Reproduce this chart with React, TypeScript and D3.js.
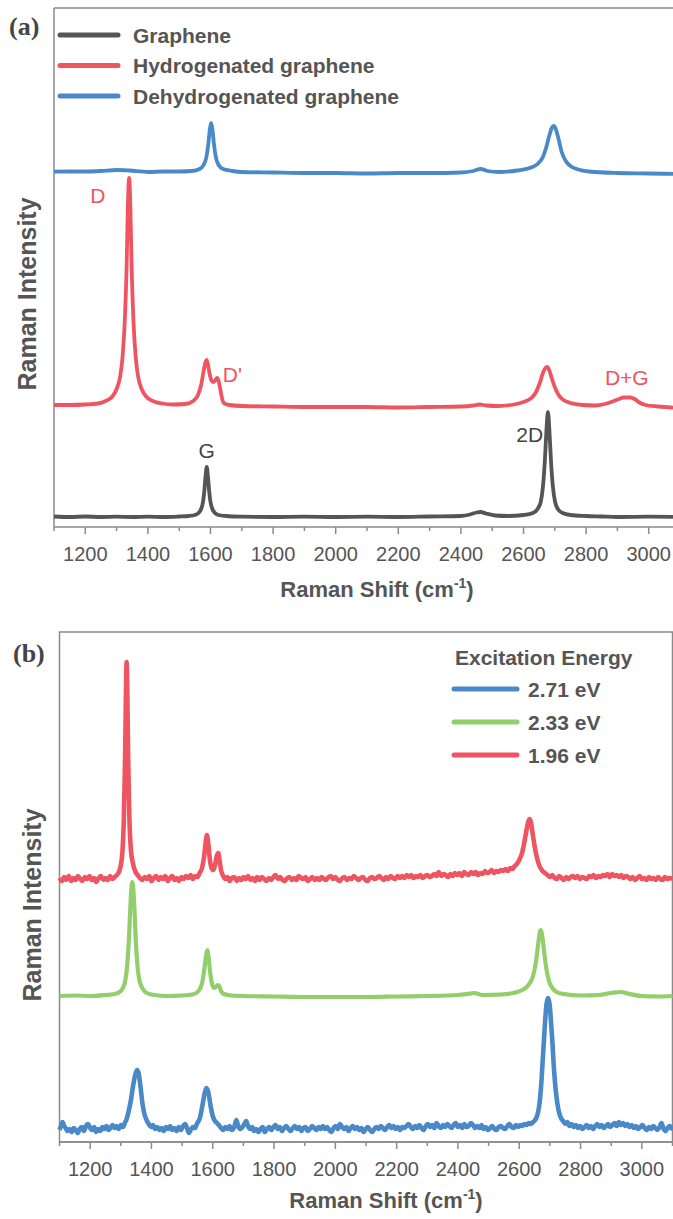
import React from "react";
import * as d3 from "d3";

// ---- panel (a) spectra: [Raman shift (cm-1), intensity above own baseline]
const graphene: [number, number][] = [
  [1100, 0.5], [1150, 0], [1200, 0.5], [1250, 0], [1300, 0.3], [1350, 0], [1400, 0.4], [1450, 0],
  [1500, 0.5], [1530, 1], [1550, 2], [1562, 4], [1570, 8], [1576, 15], [1580, 25], [1584, 40],
  [1588, 50], [1592, 40], [1596, 25], [1600, 15], [1606, 8], [1614, 4], [1625, 2], [1650, 1],
  [1700, 0.3], [1800, 0], [1900, 0.4], [2000, 0], [2100, 0.3], [2200, 0], [2300, 0.5], [2400, 1],
  [2430, 2.5], [2450, 4.5], [2463, 5], [2480, 3.5], [2510, 1.5], [2550, 1], [2600, 2], [2630, 4],
  [2645, 8], [2655, 15], [2662, 30], [2668, 55], [2673, 85], [2678, 105], [2683, 85], [2688, 55],
  [2694, 30], [2701, 15], [2712, 7], [2725, 4], [2750, 2], [2800, 1], [2850, 0.5], [2900, 0],
  [3000, 0.3], [3100, 0],
];

const hydrogenated: [number, number][] = [
  [1100, 2], [1150, 2], [1200, 2.5], [1240, 3.5], [1265, 6], [1285, 10], [1300, 18], [1311, 30],
  [1319, 50], [1326, 85], [1332, 140], [1336, 200], [1340, 229], [1344, 200], [1348, 140], [1354, 85],
  [1361, 50], [1369, 30], [1380, 18], [1396, 10], [1416, 6], [1445, 3.5], [1480, 2.5], [1520, 3],
  [1545, 6], [1560, 12], [1570, 22], [1578, 36], [1584, 45], [1588, 47], [1592, 42], [1598, 32],
  [1604, 26], [1610, 25], [1616, 27], [1621, 29], [1625, 27], [1630, 20], [1636, 10], [1642, 4],
  [1660, 2], [1700, 1], [1800, 0.5], [1900, 0], [2000, 0], [2100, 0], [2200, -0.5], [2300, 0],
  [2400, 0.5], [2440, 1.5], [2460, 2.5], [2480, 1.5], [2520, 1], [2570, 2.5], [2600, 5], [2625, 9],
  [2640, 15], [2652, 24], [2662, 34], [2670, 39], [2676, 40], [2682, 37], [2690, 29], [2700, 20],
  [2712, 12], [2728, 7], [2750, 4], [2790, 2], [2830, 1.5], [2860, 3], [2885, 5.5], [2905, 8],
  [2920, 9.5], [2940, 9.5], [2955, 8], [2970, 4.5], [2990, 2], [3030, 0.5], [3100, -1],
];

const dehydrogenated: [number, number][] = [
  [1100, 0.3], [1150, 0.5], [1200, 0.5], [1250, 1], [1300, 2], [1340, 1.5], [1400, 0], [1450, 0.5],
  [1500, 0.5], [1540, 1], [1565, 3], [1578, 7], [1587, 15], [1593, 28], [1598, 43], [1602, 49],
  [1606, 43], [1611, 28], [1617, 15], [1626, 7], [1640, 3], [1670, 1], [1700, 0], [1800, -0.5],
  [1900, -1], [2000, -1], [2100, -1.5], [2200, -1], [2300, -1], [2400, -0.5], [2440, 1], [2463, 3],
  [2485, 1], [2520, 0], [2580, 1.5], [2620, 4], [2645, 8], [2662, 15], [2673, 25], [2683, 37],
  [2692, 45], [2697, 46], [2703, 43], [2712, 33], [2722, 20], [2735, 11], [2750, 6], [2775, 2.5],
  [2810, 0.5], [2900, -1], [3000, -1.5], [3100, -2],
];

// ---- panel (b) spectra
const ev196: [number, number][] = [
  [1100, 0], [1108, -3], [1115, 1], [1122, -2], [1130, 2], [1138, -3], [1145, 0], [1153, -2],
  [1160, 2], [1168, -1], [1175, -3], [1183, 1], [1190, -1], [1198, 2], [1205, -2], [1213, 0],
  [1220, -4], [1228, 0], [1235, 2], [1243, -2], [1250, 0], [1258, -2], [1265, 2], [1273, -1],
  [1280, 1], [1290, 4], [1298, 10], [1305, 25], [1310, 60], [1314, 120], [1317, 190], [1319, 216],
  [1321, 190], [1324, 120], [1328, 60], [1333, 28], [1340, 14], [1348, 6], [1355, 3], [1362, 0],
  [1370, -2], [1378, 1], [1385, -1], [1393, 2], [1400, -3], [1408, 0], [1415, 2], [1423, -2],
  [1430, 1], [1438, -1], [1445, 2], [1453, -3], [1460, 0], [1468, 2], [1475, -2], [1483, 0],
  [1490, -3], [1498, 1], [1505, -1], [1513, 2], [1520, 0], [1528, 3], [1535, -1], [1543, 2],
  [1550, 1], [1557, 5], [1565, 10], [1572, 22], [1577, 36], [1581, 43], [1585, 36], [1590, 20],
  [1596, 10], [1602, 8], [1608, 14], [1613, 22], [1618, 25], [1622, 18], [1627, 8], [1634, 2],
  [1641, -1], [1648, 1], [1655, -3], [1662, 0], [1670, 1], [1678, -3], [1685, 0], [1693, -2],
  [1700, 1], [1708, -1], [1715, 2], [1723, -2], [1730, 0], [1738, -3], [1745, 1], [1753, -2],
  [1760, 1], [1768, -1], [1775, -3], [1783, 0], [1790, -2], [1798, 1], [1805, 3], [1813, -1],
  [1820, 1], [1828, -2], [1835, -3], [1843, 0], [1850, 1], [1858, -2], [1865, 0], [1873, -2],
  [1880, 2], [1888, 0], [1895, -1], [1903, 1], [1910, -3], [1918, -1], [1925, 1], [1933, -2],
  [1940, 0], [1948, -2], [1955, 1], [1963, -1], [1970, -2], [1978, 1], [1985, 2], [1993, -1],
  [2000, 1], [2008, -2], [2015, -3], [2023, 0], [2030, 1], [2038, -2], [2045, 0], [2053, -1],
  [2060, 2], [2068, 0], [2075, -2], [2083, 0], [2090, 1], [2098, -2], [2105, -3], [2113, 0],
  [2120, 1], [2128, -1], [2135, 0], [2143, 2], [2150, 0], [2158, -2], [2165, 1], [2173, -1],
  [2180, 2], [2188, 0], [2195, -1], [2203, 2], [2210, 0], [2218, 2], [2225, 0], [2233, 3],
  [2240, 1], [2248, 3], [2255, 0], [2263, 2], [2270, 1], [2278, 3], [2285, 0], [2293, 2],
  [2300, 3], [2308, 1], [2315, 2], [2323, 4], [2330, 2], [2337, 6], [2345, 2], [2353, 4],
  [2360, 3], [2368, 1], [2375, 4], [2383, 2], [2390, 5], [2398, 3], [2405, 5], [2413, 2],
  [2420, 6], [2428, 4], [2435, 3], [2443, 6], [2450, 4], [2458, 6], [2465, 3], [2473, 5],
  [2480, 4], [2488, 7], [2495, 5], [2503, 6], [2510, 8], [2518, 5], [2525, 7], [2533, 6],
  [2540, 8], [2548, 7], [2555, 9], [2563, 7], [2570, 10], [2578, 9], [2585, 12], [2592, 14],
  [2600, 18], [2610, 26], [2618, 38], [2625, 50], [2630, 57], [2634, 59], [2638, 56], [2643, 46],
  [2650, 32], [2658, 20], [2666, 12], [2676, 7], [2684, 5], [2692, 3], [2700, 1], [2708, 3],
  [2715, 0], [2723, -1], [2730, 2], [2738, 0], [2745, -2], [2753, 1], [2760, -1], [2768, 1],
  [2775, 2], [2783, 0], [2790, 2], [2798, -1], [2805, 1], [2813, 0], [2820, -1], [2828, 2],
  [2835, 1], [2843, 3], [2850, 0], [2858, 2], [2865, 1], [2873, 3], [2880, 2], [2888, 4],
  [2895, 1], [2903, 4], [2910, 2], [2918, 3], [2925, 1], [2933, 3], [2940, 0], [2948, 2],
  [2955, 1], [2963, -1], [2970, 1], [2978, -2], [2985, 0], [2993, 2], [3000, -1], [3008, 0],
  [3015, -2], [3023, 1], [3030, -1], [3038, 0], [3045, -2], [3053, 1], [3060, -1], [3068, -2],
  [3075, 1], [3083, -1], [3090, 0], [3100, -1],
];

const ev233: [number, number][] = [
  [1100, 0], [1150, 0.5], [1200, 0], [1250, 1], [1280, 2], [1300, 5], [1312, 12], [1320, 28],
  [1327, 60], [1332, 95], [1336, 112], [1338, 114], [1340, 110], [1344, 90], [1349, 55], [1355, 28],
  [1362, 14], [1372, 7], [1385, 3], [1410, 1], [1450, 0], [1500, 0.5], [1540, 2], [1556, 6],
  [1566, 14], [1573, 28], [1578, 40], [1582, 46], [1586, 40], [1591, 25], [1597, 13], [1604, 8],
  [1610, 9], [1616, 11], [1621, 10], [1627, 5], [1636, 2], [1660, 0.5], [1700, 0], [1800, -0.5],
  [1900, -1], [2000, -1], [2100, -1], [2200, -0.5], [2300, 0], [2400, 1], [2430, 2], [2453, 3],
  [2480, 1], [2540, 1.5], [2580, 3], [2610, 6], [2630, 11], [2645, 20], [2655, 35], [2663, 55],
  [2668, 65], [2671, 66], [2675, 60], [2681, 45], [2688, 28], [2697, 15], [2708, 8], [2722, 4],
  [2745, 2], [2800, 0.5], [2860, 1], [2900, 3], [2931, 4], [2960, 2], [3000, 0], [3050, -0.5],
  [3100, 0],
];

const ev271: [number, number][] = [
  [1100, -2], [1106, 3], [1110, 6], [1115, 2], [1120, 0], [1126, -3], [1133, -1], [1140, -4],
  [1146, 0], [1153, -2], [1160, -5], [1166, -1], [1173, 1], [1180, -3], [1186, 2], [1193, 4],
  [1200, 0], [1206, -2], [1213, 1], [1220, -4], [1226, -1], [1233, -3], [1240, 1], [1246, -1],
  [1253, 2], [1260, -2], [1266, 0], [1273, 3], [1280, 0], [1286, 2], [1293, -1], [1300, 3],
  [1307, 1], [1313, 5], [1318, 8], [1325, 16], [1333, 28], [1340, 42], [1347, 53], [1353, 58],
  [1358, 55], [1364, 42], [1370, 26], [1377, 14], [1384, 8], [1391, 4], [1398, 1], [1405, 3],
  [1412, -1], [1419, 1], [1426, -2], [1433, 0], [1440, -3], [1447, 1], [1454, -1], [1461, 2],
  [1468, -2], [1475, 0], [1482, -3], [1489, 1], [1496, -2], [1503, 2], [1510, 4], [1517, -1],
  [1522, -5], [1528, -2], [1535, 1], [1542, 0], [1548, 4], [1558, 10], [1566, 22], [1573, 34],
  [1580, 40], [1586, 35], [1593, 22], [1600, 12], [1607, 7], [1614, 5], [1620, 3], [1627, 0],
  [1634, -2], [1641, 1], [1648, -1], [1655, 2], [1662, -2], [1670, 1], [1677, 8], [1683, 2],
  [1690, -1], [1697, 1], [1703, 4], [1709, 7], [1715, 2], [1722, -1], [1729, 1], [1735, -3],
  [1742, -1], [1749, -4], [1756, -1], [1763, 1], [1770, -4], [1777, -1], [1784, 1], [1791, -2],
  [1798, 1], [1805, 3], [1812, -1], [1819, 1], [1826, -3], [1833, 0], [1840, 2], [1847, -1],
  [1854, -3], [1861, 0], [1868, 2], [1875, -1], [1882, 1], [1889, -3], [1896, 0], [1903, 1],
  [1910, -3], [1917, -1], [1924, 2], [1931, 0], [1938, -2], [1945, 1], [1952, -1], [1959, 2],
  [1966, -1], [1973, 1], [1980, -2], [1987, -4], [1994, 0], [2001, 2], [2008, -1], [2015, 4],
  [2022, 1], [2029, -1], [2036, 1], [2043, -3], [2050, 0], [2057, 2], [2064, -1], [2071, 1],
  [2078, -2], [2085, 0], [2092, -4], [2099, -1], [2106, 1], [2113, -2], [2120, -4], [2127, -1],
  [2134, 1], [2141, -1], [2148, 2], [2155, 0], [2162, -2], [2169, 1], [2176, 3], [2183, 0],
  [2190, 2], [2197, -1], [2204, 1], [2211, -2], [2218, 1], [2225, 0], [2232, 2], [2239, 4],
  [2246, 1], [2253, -1], [2260, 2], [2267, 0], [2274, 3], [2281, 0], [2288, -2], [2295, 2],
  [2302, 4], [2309, 1], [2316, 3], [2323, 0], [2330, 5], [2337, 2], [2344, 0], [2351, 3],
  [2358, 1], [2365, 4], [2372, 2], [2379, 0], [2386, 3], [2393, 5], [2400, 1], [2407, 3],
  [2414, 0], [2421, 4], [2428, 1], [2435, 2], [2442, 5], [2449, 3], [2456, 0], [2463, 2],
  [2470, 0], [2477, 3], [2484, -1], [2491, 1], [2498, -2], [2505, 0], [2512, 2], [2519, -1],
  [2526, -2], [2533, 1], [2540, 2], [2547, 0], [2554, -1], [2561, 2], [2568, 4], [2575, 1],
  [2582, 0], [2589, 3], [2596, 1], [2603, 3], [2610, 2], [2617, 4], [2624, 3], [2631, 5],
  [2638, 4], [2645, 6], [2652, 8], [2658, 12], [2664, 20], [2668, 30], [2672, 45], [2676, 65],
  [2680, 85], [2683, 100], [2689, 124], [2694, 130], [2699, 124], [2705, 100], [2709, 82],
  [2712, 65], [2716, 48], [2720, 35], [2728, 18], [2736, 10], [2743, 7], [2750, 4], [2757, 6],
  [2764, 2], [2771, 4], [2778, 1], [2785, 3], [2792, 0], [2799, 2], [2806, -1], [2813, 1],
  [2820, 3], [2827, 0], [2834, 2], [2841, -1], [2848, 2], [2855, 4], [2862, 1], [2869, 3],
  [2876, 0], [2883, 2], [2890, 4], [2897, 1], [2904, 3], [2911, 5], [2918, 2], [2925, 6],
  [2932, 3], [2939, 5], [2946, 2], [2953, 4], [2960, 1], [2967, 3], [2974, 0], [2981, 2],
  [2988, -1], [2995, 1], [3002, 3], [3009, 0], [3016, -2], [3023, 1], [3030, -1], [3037, 2],
  [3044, 0], [3051, -2], [3058, 1], [3064, 5], [3070, 0], [3077, -3], [3084, 0], [3091, 2],
  [3100, -2],
];

const majorTicks = [1200, 1400, 1600, 1800, 2000, 2200, 2400, 2600, 2800, 3000];
const minorTicks = [1100, 1300, 1500, 1700, 1900, 2100, 2300, 2500, 2700, 2900, 3100];

const seriesA = [
  { name: "Graphene", data: graphene, offset: 0, color: "#555555", width: 3.8 },
  { name: "Hydrogenated graphene", data: hydrogenated, offset: 110, color: "#ef5561", width: 3.8 },
  { name: "Dehydrogenated graphene", data: dehydrogenated, offset: 345, color: "#4a89c8", width: 3.8 },
];
const seriesB = [
  { name: "2.71 eV", data: ev271, offset: 0, color: "#4a89c8", width: 4.6 },
  { name: "2.33 eV", data: ev233, offset: 132, color: "#92ce6c", width: 4.2 },
  { name: "1.96 eV", data: ev196, offset: 250, color: "#ef5561", width: 4.6 },
];

const peakLabelsA = [
  { text: "D", x: 1240, y: 314, color: "#ef5561" },
  { text: "D'", x: 1670, y: 135, color: "#ef5561" },
  { text: "D+G", x: 2930, y: 132, color: "#ef5561" },
  { text: "G", x: 1588, y: 59, color: "#444" },
  { text: "2D", x: 2620, y: 75, color: "#444" },
];

const FONT = "'Liberation Sans', Arial, sans-serif";
const AXIS = "#8a8a8a";
const TEXT = "#555";

function Axis({ x, y0 }: { x: d3.ScaleLinear<number, number>; y0: number }) {
  return (
    <g>
      <line x1={x.range()[0]} x2={x.range()[1]} y1={y0} y2={y0} stroke={AXIS} strokeWidth={1.5} />
      {minorTicks.map((t) => (
        <line key={"m" + t} x1={x(t)} x2={x(t)} y1={y0} y2={y0 + 4} stroke={AXIS} strokeWidth={1.5} />
      ))}
      {majorTicks.map((t) => (
        <g key={t}>
          <line x1={x(t)} x2={x(t)} y1={y0} y2={y0 + 7} stroke={AXIS} strokeWidth={1.5} />
          <text x={x(t)} y={y0 + 34} textAnchor="middle" fontSize={20} fill={TEXT} fontFamily={FONT}>
            {t}
          </text>
        </g>
      ))}
    </g>
  );
}

function AxisTitle({ cx, y }: { cx: number; y: number }) {
  return (
    <text x={cx} y={y} textAnchor="middle" fontSize={22} fontWeight="bold" fill={TEXT} fontFamily={FONT}>
      Raman Shift (cm
      <tspan fontSize={14} dy={-9}>-1</tspan>
      <tspan dy={9}>)</tspan>
    </text>
  );
}

export default function App() {
  // panel (a)
  const xa = d3.scaleLinear().domain([1100, 3100]).range([54, 680]);
  const ya = d3.scaleLinear().domain([-10, 509]).range([527, 8]);
  // panel (b)
  const xb = d3.scaleLinear().domain([1100, 3100]).range([59.5, 672.5]);
  const yb = d3.scaleLinear().domain([-14, 496]).range([1142, 632]);

  const lineFor = (x: d3.ScaleLinear<number, number>, y: d3.ScaleLinear<number, number>, off: number) =>
    d3
      .line<[number, number]>()
      .x((d) => x(d[0]))
      .y((d) => y(d[1] + off))
      .curve(d3.curveMonotoneX);

  return (
    <svg
      width={673}
      height={1219}
      style={{ position: "absolute", left: 0, top: 0, background: "#fff" }}
    >
      <rect width={673} height={1219} fill="#fff" />

      {/* ---------- panel (a) ---------- */}
      <text x={9} y={35} fontSize={26} fontWeight="bold" fill="#444" fontFamily="'Liberation Serif', serif">
        (a)
      </text>
      <line x1={54} x2={680} y1={8} y2={8} stroke={AXIS} strokeWidth={1.5} />
      <line x1={54} x2={54} y1={8} y2={527} stroke={AXIS} strokeWidth={1.5} />
      {seriesA.map((s) => (
        <path
          key={s.name}
          d={lineFor(xa, ya, s.offset)(s.data) || ""}
          fill="none"
          stroke={s.color}
          strokeWidth={s.width}
          strokeLinejoin="round"
        />
      ))}
      {seriesA.map((s, i) => (
        <g key={"lg" + i}>
          <line x1={60} x2={118} y1={35 + i * 30.5} y2={35 + i * 30.5} stroke={s.color} strokeWidth={5} strokeLinecap="round" />
          <text x={133} y={35 + i * 30.5 + 7.5} fontSize={21} fontWeight="bold" fill={TEXT} fontFamily={FONT}>
            {s.name}
          </text>
        </g>
      ))}
      {peakLabelsA.map((p) => (
        <text key={p.text} x={xa(p.x)} y={ya(p.y)} textAnchor="middle" fontSize={21} fill={p.color} fontFamily={FONT}>
          {p.text}
        </text>
      ))}
      <Axis x={xa} y0={527} />
      <AxisTitle cx={377} y={597} />
      <text
        transform="translate(36,294) rotate(-90)"
        textAnchor="middle"
        fontSize={25}
        fontWeight="bold"
        fill={TEXT}
        fontFamily={FONT}
      >
        Raman Intensity
      </text>

      {/* ---------- panel (b) ---------- */}
      <text x={13} y={662} fontSize={26} fontWeight="bold" fill="#444" fontFamily="'Liberation Serif', serif">
        (b)
      </text>
      <rect x={59.5} y={632} width={613} height={510} fill="none" stroke={AXIS} strokeWidth={1.5} />
      {seriesB.map((s) => (
        <path
          key={s.name}
          d={lineFor(xb, yb, s.offset)(s.data) || ""}
          fill="none"
          stroke={s.color}
          strokeWidth={s.width}
          strokeLinejoin="round"
        />
      ))}
      <text x={455} y={665} fontSize={21} fontWeight="bold" fill={TEXT} fontFamily={FONT}>
        Excitation Energy
      </text>
      {seriesB.map((s, i) => (
        <g key={"lb" + i}>
          <line x1={454} x2={517} y1={689 + i * 33} y2={689 + i * 33} stroke={s.color} strokeWidth={5} strokeLinecap="round" />
          <text x={528} y={689 + i * 33 + 7.5} fontSize={21} fontWeight="bold" fill={TEXT} fontFamily={FONT}>
            {s.name}
          </text>
        </g>
      ))}
      <Axis x={xb} y0={1142} />
      <AxisTitle cx={386} y={1208} />
      <text
        transform="translate(41,905) rotate(-90)"
        textAnchor="middle"
        fontSize={25}
        fontWeight="bold"
        fill={TEXT}
        fontFamily={FONT}
      >
        Raman Intensity
      </text>
    </svg>
  );
}
